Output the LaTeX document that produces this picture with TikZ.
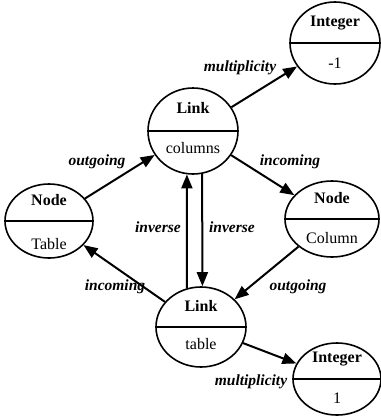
\documentclass[tikz,border=0pt]{standalone}
\usepackage{fontspec}
\setmainfont{Liberation Serif}
\usetikzlibrary{shapes.geometric,arrows.meta}
\tikzset{
  obj/.style={ellipse, draw, line width=1.6pt, inner sep=0pt, minimum width=90pt, minimum height=80pt},
  head/.style={font=\fontsize{16}{18}\selectfont\bfseries, inner sep=0pt},
  val/.style={font=\fontsize{16}{18}\selectfont, inner sep=0pt},
  rel/.style={line width=2pt, -{Triangle[length=14pt,width=11pt]}},
  lab/.style={font=\fontsize{15.5}{18}\selectfont\bfseries\itshape, inner sep=0pt}
}
\begin{document}
\begin{tikzpicture}[x=1pt,y=-1pt]
\useasboundingbox (0,0) rectangle (381,416);
% objects
\node[obj, minimum height=82pt] (it) at (335,43) {};
\node[obj, minimum height=86pt] (lc) at (193,131) {};
\node[obj, minimum width=88pt, minimum height=74pt] (nt) at (49,221) {};
\node[obj, minimum width=94pt, minimum height=76pt] (nc) at (332,219) {};
\node[obj, minimum height=80pt] (lt) at (201,327) {};
\node[obj, minimum width=88pt, minimum height=72pt] (ib) at (337,379) {};
\foreach \n in {it,lc,nt,nc,lt,ib}{\draw[line width=1.6pt] (\n.west) -- (\n.east);}
% texts
\node[head] (itH) at (335,23) {Integer};
\node[val]  (itV) at (335,63) {-1};
\node[head] (lcH) at (193,108) {Link};
\node[val]  (lcV) at (193,148) {columns};
\node[head] (ntH) at (49,200) {Node};
\node[val]  (ntV) at (49,244) {Table};
\node[head] (ncH) at (332,198) {Node};
\node[val]  (ncV) at (332,238) {Column};
\node[head] (ltH) at (201,306) {Link};
\node[val]  (ltV) at (201,344) {table};
\node[head] (ibH) at (337,359) {Integer};
\node[val]  (ibV) at (337,398) {1};
% connectors
\draw[rel] (lc) -- (it);
\draw[rel] (nt) -- (lc);
\draw[rel] (lc) -- (nc);
\draw[rel] (lt.110) -- (lc.262);
\draw[rel] (lc.282) -- (lt.88);
\draw[rel] (lt) -- (nt);
\draw[rel] (nc) -- (lt);
\draw[rel] (lt) -- (ib);
% labels
\node[lab] (l1) at (240,68) {multiplicity};
\node[lab] (l2) at (97,162) {outgoing};
\node[lab] (l3) at (290,162) {incoming};
\node[lab] (l4) at (158,227) {inverse};
\node[lab] (l5) at (232,227) {inverse};
\node[lab] (l6) at (115,287) {incoming};
\node[lab] (l7) at (298,287) {outgoing};
\node[lab] (l8) at (251,382) {multiplicity};
\end{tikzpicture}
\end{document}
